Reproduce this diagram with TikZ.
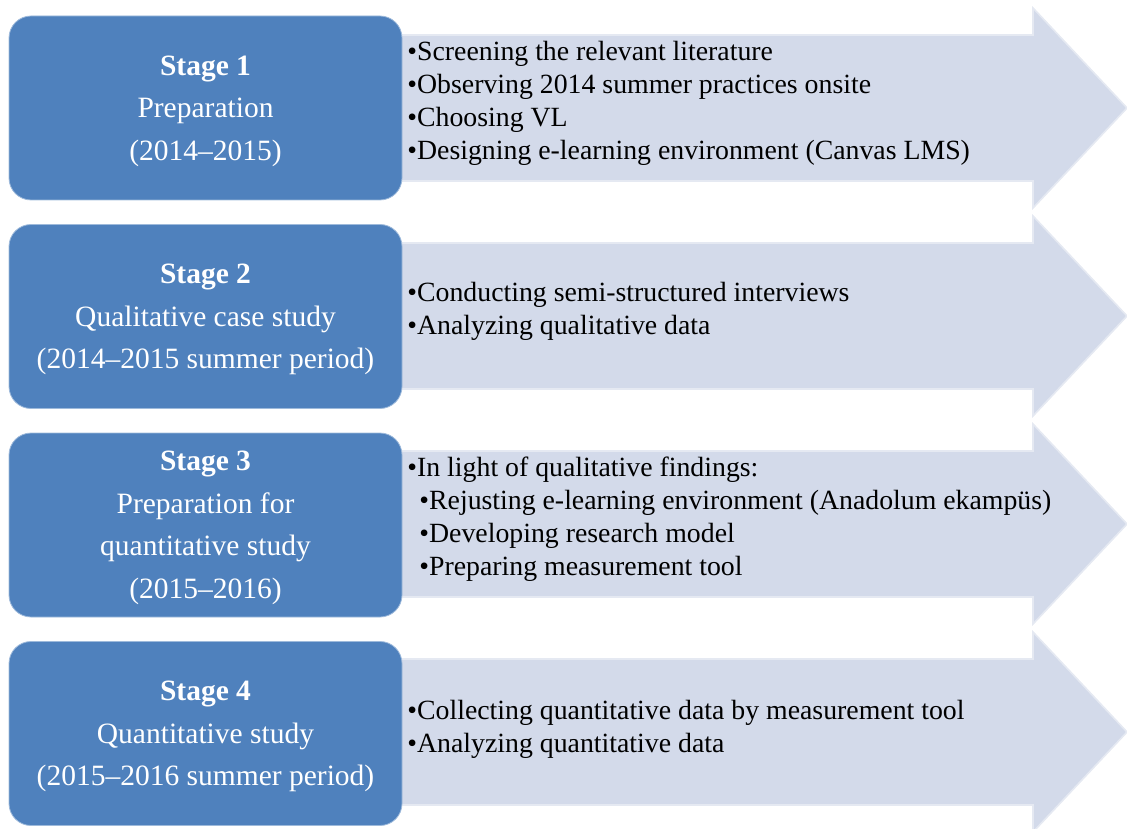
\documentclass[tikz,border=0pt]{standalone}
\usepackage{fontspec}
\setmainfont{Liberation Serif}

\definecolor{stageblue}{RGB}{79,129,189}
\definecolor{bandgray}{RGB}{211,218,234}
\newcommand{\stagehead}[1]{\rule{0pt}{12.8pt}\textbf{Stage #1}}

\begin{document}
\begin{tikzpicture}[x=0.5pt, y=-0.5pt,
  stage/.style = {draw=white!45!stageblue, fill=stageblue, rounded corners=11pt,
    minimum width=196.5pt, minimum height=92pt, inner sep=0pt,
    text=white, align=center, font=\fontsize{14.75}{21.25}\selectfont},
  band/.style = {draw=white!40!bandgray, fill=bandgray, line width=0.8pt},
  items/.style = {anchor=west, align=left, inner sep=0pt,
    font=\fontsize{13.9}{16.5}\selectfont}]

  \useasboundingbox (0,0) rectangle (1127,828);

  % arrows behind the stages
  \filldraw[band] (395,35) -- (1033,35) -- (1033,8) -- (1127,108) -- (1033,208) -- (1033,181) -- (395,181) -- cycle;
  \filldraw[band] (395,243) -- (1033,243) -- (1033,216) -- (1127,316) -- (1033,416) -- (1033,389) -- (395,389) -- cycle;
  \filldraw[band] (395,451) -- (1033,451) -- (1033,424) -- (1127,524) -- (1033,624) -- (1033,597) -- (395,597) -- cycle;
  \filldraw[band] (395,659) -- (1033,659) -- (1033,632) -- (1127,732) -- (1033,832) -- (1033,805) -- (395,805) -- cycle;

  \node[stage] (s1) at (205.5,108) {\stagehead{1}\\Preparation\\(2014–2015)};
  \node[stage] (s2) at (205.5,316.5) {\stagehead{2}\\Qualitative case study\\(2014–2015 summer period)};
  \node[stage] (s3) at (205.5,525) {\stagehead{3}\\Preparation for\\quantitative study\\(2015–2016)};
  \node[stage] (s4) at (205.5,733.5) {\stagehead{4}\\Quantitative study\\(2015–2016 summer period)};

  \node[items] (b1) at (407,103.5) {•Screening the relevant literature\\•Observing 2014 summer practices onsite\\•Choosing VL\\•Designing e-learning environment (Canvas LMS)};
  \node[items] (b2) at (407,311.5) {•Conducting semi-structured interviews\\•Analyzing qualitative data};
  \node[items] (b3) at (407,519.5) {•In light of qualitative findings:\\\hspace*{6pt}•Rejusting e-learning environment (Anadolum ekampüs)\\\hspace*{6pt}•Developing research model\\\hspace*{6pt}•Preparing measurement tool};
  \node[items] (b4) at (407,729) {•Collecting quantitative data by measurement tool\\•Analyzing quantitative data};
\end{tikzpicture}
\end{document}
